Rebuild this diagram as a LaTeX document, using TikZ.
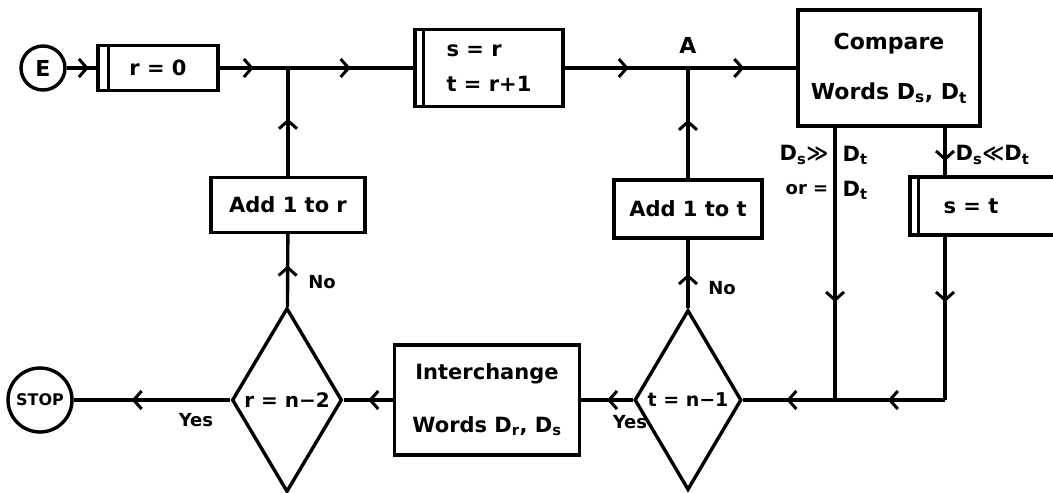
\documentclass[tikz,border=0pt]{standalone}
\usepackage{fontspec}
\setmainfont{DejaVu Sans}
\usetikzlibrary{shapes.geometric,arrows.meta,decorations.markings}
\begin{document}
\begin{tikzpicture}[x=1pt,y=-1pt, line width=3.4pt,
  every node/.style={font=\bfseries\fontsize{21}{25}\selectfont},
  box/.style={draw, rectangle, inner sep=0pt, align=center},
  dec/.style={draw, diamond, inner sep=0pt},
  term/.style={draw, circle, inner sep=0pt},
  lbl/.style={font=\bfseries\fontsize{21}{24}\selectfont, inner sep=1pt},
  small/.style={font=\bfseries\fontsize{18}{21}\selectfont},
  arrat/.style={postaction={decorate,decoration={markings,mark=at position #1 with {\arrow{Straight Barb[length=8pt,width=18pt,line width=3pt]}}}}}
]
\useasboundingbox (0,0) rectangle (1053,493);
\clip (0,0) rectangle (1053,493);

% nodes
\node[term, minimum size=44pt, font=\bfseries\fontsize{22}{24}\selectfont] (E) at (43,68) {E};
\node[box, minimum width=120pt, minimum height=45pt] (r0) at (158,68) {r = 0};
\draw ([xshift=12pt]r0.north west) -- ([xshift=12pt]r0.south west);
\node[box, align=left, minimum width=148pt, minimum height=77pt] (sr) at (489,68) {s = r\\[10pt]t = r+1};
\draw ([xshift=10pt]sr.north west) -- ([xshift=10pt]sr.south west);
\node[box, minimum width=182pt, minimum height=116pt, font=\bfseries\fontsize{22}{26}\selectfont] (cmp) at (889,68) {Compare\\[24pt]Words D\textsubscript{s}, D\textsubscript{t}};
\node[box, minimum width=150pt, minimum height=58pt] (st) at (985,206) {\hspace*{-28pt}s = t};
\draw ([xshift=10pt]st.north west) -- ([xshift=10pt]st.south west);
\node[box, minimum width=154pt, minimum height=55pt] (addr) at (288,205) {Add 1 to r};
\node[box, minimum width=148pt, minimum height=58pt] (addt) at (688,209) {Add 1 to t};
\node[box, minimum width=185pt, minimum height=110pt] (inter) at (487,400) {Interchange\\[28pt]Words D\textsubscript{r}, D\textsubscript{s}};
\node[dec, minimum width=110pt, minimum height=184pt, font=\bfseries\fontsize{20}{24}\selectfont] (dr) at (287,400) {r = n−2};
\node[dec, minimum width=107pt, minimum height=180pt, font=\bfseries\fontsize{19}{24}\selectfont] (dt) at (688,400) {t = n−1};
\node[term, minimum size=64pt, font=\bfseries\fontsize{16}{18}\selectfont] (stop) at (40,400) {STOP};

\coordinate (J1) at (288,68);
\coordinate (A) at (688,68);
\coordinate (jL) at (835,400);
\coordinate (c2) at (945,400);

% connectors
\draw[arrat=0.75] (E) -- (r0);
\draw[arrat=0.5] (r0) -- (J1);
\draw[arrat=0.5] (J1) -- (sr);
\draw[arrat=0.52] (sr) -- (A);
\draw[arrat=0.52] (A) -- (cmp);
\draw[arrat=0.64] (jL |- cmp.south) -- (jL);
\draw[arrat=0.7] (c2 |- cmp.south) -- (c2 |- st.north);
\draw[arrat=0.4] (c2 |- st.south) -- (c2);
\draw[arrat=0.52] (c2) -- (jL);
\draw[arrat=0.53] (jL) -- (dt);
\draw[arrat=0.5] (dt) -- (inter);
\draw[arrat=0.5] (inter) -- (dr);
\draw[arrat=0.63] (dr) -- (stop);
\draw[arrat=0.57] (dr) -- (addr);
\draw[arrat=0.53] (addr) -- (J1);
\draw[arrat=0.5] (dt) -- (addt);
\draw[arrat=0.53] (addt) -- (A);

% labels
\node[lbl, font=\bfseries\fontsize{22}{24}\selectfont] (lA) at (688,45) {A};
\node[lbl, anchor=east] (l1) at (831,155) {D\textsubscript{s}≫};
\node[lbl, anchor=west] (l2) at (840,155) {D\textsubscript{t}};
\node[lbl, anchor=east, small] (l3) at (831,190) {or =};
\node[lbl, anchor=west] (l4) at (840,190) {D\textsubscript{t}};
\node[lbl, anchor=west] (l5) at (953,155) {D\textsubscript{s}≪D\textsubscript{t}};
\node[lbl, small] (no1) at (322,282) {No};
\node[lbl, small] (no2) at (722,288) {No};
\node[lbl, small] (y1) at (196,420) {Yes};
\node[lbl, small] (y2) at (630,422) {Yes};
\end{tikzpicture}
\end{document}
